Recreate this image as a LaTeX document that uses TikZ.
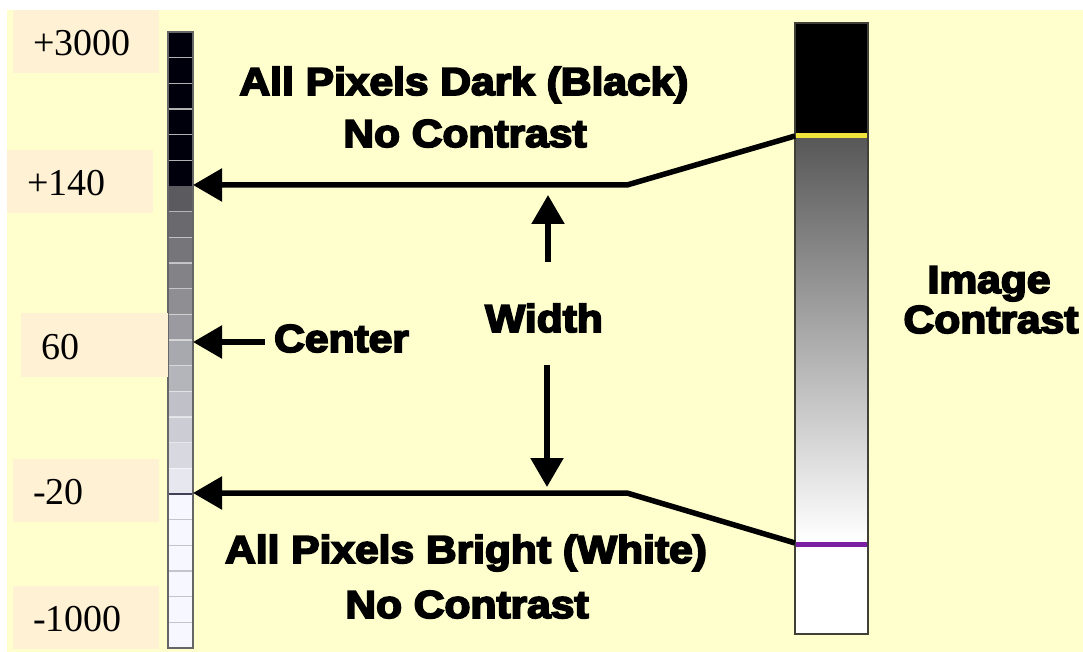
\documentclass[tikz,border=0pt]{standalone}
\usepackage{fontspec}
\setmainfont{Liberation Serif}
\newfontfamily\heavy{Liberation Sans Bold}[FakeBold=4.5]
\usetikzlibrary{arrows.meta}
\definecolor{cream}{RGB}{255,255,206}
\definecolor{peach}{RGB}{255,242,212}
\definecolor{barline}{RGB}{64,64,56}
\definecolor{markyellow}{RGB}{240,228,60}
\definecolor{markpurple}{RGB}{122,32,162}
\definecolor{lav}{RGB}{240,240,250}
\definecolor{tickgray}{RGB}{196,196,204}
\definecolor{cutline}{RGB}{64,64,88}
\newcommand\widen[1]{\scalebox{1.09}[1]{#1}}

\begin{document}
\begin{tikzpicture}[x=1pt,y=-1pt,
  lbl/.style={fill=peach, anchor=north west, minimum height=63pt, inner xsep=20pt,
    inner ysep=0pt, text width=106pt, text height=28pt, text depth=0pt, align=left,
    font=\fontsize{38}{38}\selectfont},
  caption/.style={anchor=base, inner sep=0pt, font=\heavy\fontsize{39}{39}\selectfont},
  pointer/.style={line width=5.5pt, line join=round, -{Triangle[length=29pt,width=32pt]}},
]
% page and backdrop
\fill[white] (0,0) rectangle (1083,652);
\fill[cream] (7,10) rectangle (1083,652);

% ---- left: stepped grey scale ----
\fill[black!95!blue] (168,32) rectangle (193,186);
\foreach \i in {6,...,17} {
  \pgfmathtruncatemacro\p{62-(\i-6)*5.2}
  \fill[black!\p!lav] (168,{32+\i*25.667}) rectangle (193,{32+(\i+1)*25.667});
}
\fill[white!97!blue] (168,494) rectangle (193,648);
\foreach \i in {1,...,5}
  \draw[gray!60, line width=1.3pt] (168,{32+\i*25.667}) -- (193,{32+\i*25.667});
\foreach \i in {7,...,17}
  \draw[white, opacity=0.55, line width=1.3pt] (168,{32+\i*25.667}) -- (193,{32+\i*25.667});
\foreach \i in {19,...,23}
  \draw[tickgray, line width=1.2pt] (168,{32+\i*25.667}) -- (193,{32+\i*25.667});
\draw[cutline, line width=2pt] (168,494) -- (193,494);
\node[draw=gray!80!black, line width=1.2pt, minimum width=25pt, minimum height=616pt,
      inner sep=0pt, outer sep=0pt, anchor=north west] (scale) at (168,32) {};

% ---- right: continuous contrast ramp ----
\fill[black] (795,23) rectangle (868,136);
\shade[top color=black!66, bottom color=white] (795,136) rectangle (868,540);
\fill[white] (795,540) rectangle (868,634);
\draw[markyellow, line width=5pt] (795,135.5) -- (868,135.5);
\draw[markpurple, line width=5pt] (795,544) -- (868,544);
\node[draw=barline, line width=1.5pt, minimum width=73pt, minimum height=611pt,
      inner sep=0pt, outer sep=0pt, anchor=north west] (ramp) at (795,23) {};

% ---- value labels ----
\node[lbl] (l3000) at (13,10) {+3000};
\node[lbl] (l140) at (7,150) {+140};
\node[lbl, text width=107pt, minimum height=64pt] (l60) at (21,313) {60};
\node[lbl] (lm20) at (13,459) {-20};
\node[lbl] (lm1000) at (13,586) {-1000};

% ---- captions ----
\node[caption] (dark1) at (464,95) {\widen{All Pixels Dark (Black)}};
\node[caption] (dark2) at (465,147) {\widen{No Contrast}};
\node[caption] (bright1) at (466,563) {\widen{All Pixels Bright (White)}};
\node[caption] (bright2) at (467,618) {\widen{No Contrast}};
\node[caption] (img1) at (989,293) {\widen{Image}};
\node[caption] (img2) at (991,333) {\widen{Contrast}};
\node[caption] (width) at (544,332) {\widen{Width}};
\node[caption, anchor=base west] (center) at (274,352) {\widen{Center}};

% ---- connectors ----
\coordinate (hiEnd) at (ramp.west |- 0,136);
\coordinate (hiBend) at (627,185);
\coordinate (hiTip) at (scale.east |- 0,185);
\coordinate (loEnd) at (ramp.west |- 0,543);
\coordinate (loBend) at (627,493);
\coordinate (loTip) at (scale.east |- 0,493);
\draw[pointer] (hiEnd) -- (hiBend) -- (hiTip);
\draw[pointer] (loEnd) -- (loBend) -- (loTip);

\coordinate (wUpStart) at (548,262);
\coordinate (wUpTip) at (548,195);
\coordinate (wDnStart) at (547,365);
\coordinate (wDnTip) at (547,487);
\draw[pointer] (wUpStart) -- (wUpTip);
\draw[pointer] (wDnStart) -- (wDnTip);

\coordinate (cStart) at (265,342);
\coordinate (cTip) at (scale.east |- 0,342);
\draw[pointer] (cStart) -- (cTip);
\end{tikzpicture}
\end{document}
